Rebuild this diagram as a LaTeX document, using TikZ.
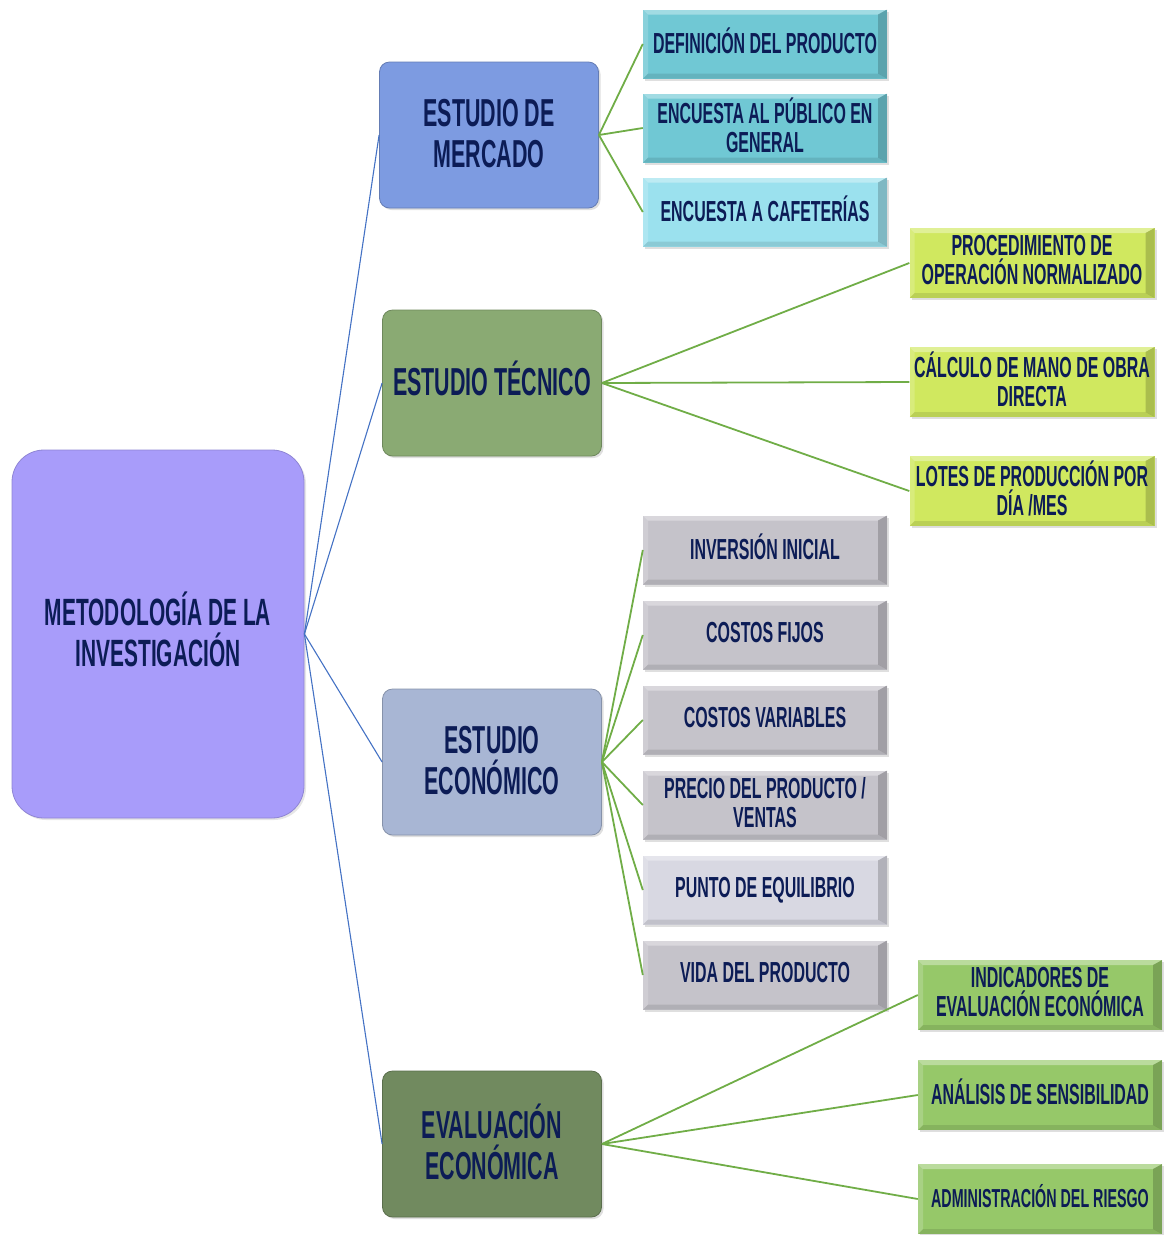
\documentclass[tikz,border=0pt]{standalone}
\usepackage{fontspec}
\setmainfont{Liberation Sans}[FakeStretch=0.55]
\usetikzlibrary{shadows}
\definecolor{navy}{RGB}{12,28,86}
\definecolor{rootc}{RGB}{168,156,250}
\definecolor{merc}{RGB}{125,155,225}
\definecolor{tecc}{RGB}{138,170,115}
\definecolor{ecoc}{RGB}{168,182,212}
\definecolor{evac}{RGB}{113,138,95}
\definecolor{cyanA}{RGB}{112,200,212}
\definecolor{cyanB}{RGB}{155,225,238}
\definecolor{lime}{RGB}{208,232,95}
\definecolor{grayA}{RGB}{197,195,202}
\definecolor{grayB}{RGB}{216,216,226}
\definecolor{leafg}{RGB}{150,200,105}
\definecolor{bline}{RGB}{68,114,196}
\definecolor{gline}{RGB}{112,173,71}
\tikzset{
  txt/.style={text=navy, align=center, inner sep=0pt},
  rootbox/.style={txt, rounded corners=32pt, fill=rootc, draw=rootc!85!black, line width=0.8pt,
    minimum width=292pt, minimum height=368pt, text depth=10pt,
    font=\fontsize{38}{41}\selectfont\bfseries,
    drop shadow={opacity=0.2, shadow xshift=2pt, shadow yshift=-2pt}},
  midbox/.style={txt, rounded corners=10pt, fill=#1, draw=#1!80!black, line width=0.8pt,
    minimum width=219pt, minimum height=146pt, text depth=4pt,
    font=\fontsize{39}{41}\selectfont\bfseries,
    drop shadow={opacity=0.25, shadow xshift=2pt, shadow yshift=-2pt}},
  leaf/.style={txt, fill=#1, minimum width=244pt, minimum height=69pt, text depth=6pt,
    font=\fontsize{29}{29}\selectfont\bfseries,
    drop shadow={opacity=0.25, shadow xshift=2pt, shadow yshift=-2pt},
    path picture={
      \fill[white, opacity=0.35] (path picture bounding box.north west) -- (path picture bounding box.north east)
        -- ([xshift=-9pt,yshift=-5pt]path picture bounding box.north east)
        -- ([xshift=5pt,yshift=-5pt]path picture bounding box.north west) -- cycle;
      \fill[white, opacity=0.18] (path picture bounding box.north west)
        -- ([xshift=5pt,yshift=-5pt]path picture bounding box.north west)
        -- ([xshift=5pt,yshift=5pt]path picture bounding box.south west)
        -- (path picture bounding box.south west) -- cycle;
      \fill[black, opacity=0.18] (path picture bounding box.north east) -- (path picture bounding box.south east)
        -- ([xshift=-9pt,yshift=5pt]path picture bounding box.south east)
        -- ([xshift=-9pt,yshift=-5pt]path picture bounding box.north east) -- cycle;
      \fill[black, opacity=0.10] (path picture bounding box.south west) -- (path picture bounding box.south east)
        -- ([xshift=-9pt,yshift=5pt]path picture bounding box.south east)
        -- ([xshift=5pt,yshift=5pt]path picture bounding box.south west) -- cycle;
    }},
  bl/.style={draw=bline, line width=1.1pt},
  gl/.style={draw=gline, line width=1.8pt}
}
\begin{document}
\begin{tikzpicture}[x=1pt, y=-1pt]
\useasboundingbox (0,0) rectangle (1163,1235);
% root
\node[rootbox] (root) at (158,634) {METODOLOGÍA DE LA\\INVESTIGACIÓN};
% middle level
\node[midbox=merc] (mer) at (489,135) {ESTUDIO DE\\MERCADO};
\node[midbox=tecc, text depth=10pt] (tec) at (492,383) {ESTUDIO TÉCNICO};
\node[midbox=ecoc] (eco) at (492,762) {ESTUDIO\\ECONÓMICO};
\node[midbox=evac] (eva) at (492,1144) {EVALUACIÓN\\ECONÓMICA};
% mercado leaves
\node[leaf=cyanA] (d1) at (765,44) {DEFINICIÓN DEL PRODUCTO};
\node[leaf=cyanA] (d2) at (765,128) {ENCUESTA AL PÚBLICO EN\\GENERAL};
\node[leaf=cyanB] (d3) at (765,212) {ENCUESTA A CAFETERÍAS};
% tecnico leaves
\node[leaf=lime, minimum width=245pt, minimum height=70pt] (t1) at (1032,263) {PROCEDIMIENTO DE\\OPERACIÓN NORMALIZADO};
\node[leaf=lime, minimum width=245pt, minimum height=70pt] (t2) at (1032,382) {CÁLCULO DE MANO DE OBRA\\DIRECTA};
\node[leaf=lime, minimum width=245pt, minimum height=70pt] (t3) at (1032,491) {LOTES DE PRODUCCIÓN POR\\DÍA /MES};
% economico leaves
\node[leaf=grayA] (e1) at (765,550) {INVERSIÓN INICIAL};
\node[leaf=grayA] (e2) at (765,635) {COSTOS FIJOS};
\node[leaf=grayA] (e3) at (765,720) {COSTOS VARIABLES};
\node[leaf=grayA] (e4) at (765,805) {PRECIO DEL PRODUCTO /\\VENTAS};
\node[leaf=grayB] (e5) at (765,890) {PUNTO DE EQUILIBRIO};
\node[leaf=grayA] (e6) at (765,975) {VIDA DEL PRODUCTO};
% evaluacion leaves
\node[leaf=leafg, minimum height=70pt] (v1) at (1040,995) {INDICADORES DE\\EVALUACIÓN ECONÓMICA};
\node[leaf=leafg, minimum height=70pt] (v2) at (1040,1095) {ANÁLISIS DE SENSIBILIDAD};
\node[leaf=leafg, minimum height=70pt, font=\fontsize{26}{27}\selectfont\bfseries] (v3) at (1040,1199) {ADMINISTRACIÓN DEL RIESGO};
% connectors root -> middle
\draw[bl] (root.east) -- (mer.west);
\draw[bl] (root.east) -- (tec.west);
\draw[bl] (root.east) -- (eco.west);
\draw[bl] (root.east) -- (eva.west);
% connectors middle -> leaves
\foreach \n in {d1,d2,d3} \draw[gl] (mer.east) -- (\n.west);
\foreach \n in {t1,t2,t3} \draw[gl] (tec.east) -- (\n.west);
\foreach \n in {e1,e2,e3,e4,e5,e6} \draw[gl] (eco.east) -- (\n.west);
\foreach \n in {v1,v2,v3} \draw[gl] (eva.east) -- (\n.west);
\end{tikzpicture}
\end{document}
